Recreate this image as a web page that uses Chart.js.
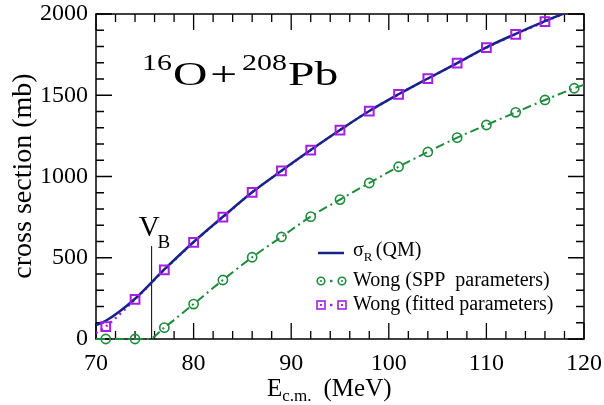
<!DOCTYPE html>
<html>
<head>
<meta charset="utf-8">
<script src="https://cdn.jsdelivr.net/npm/chart.js@4"></script>
<style>
  html, body { margin: 0; padding: 0; background: #fff; }
  #wrap { width: 604px; height: 405px; }
</style>
</head>
<body>
<div id="wrap"><canvas id="xs"></canvas></div>
<script>
// sigma_R (QM) solid curve
const energyQM = [70, 71, 74, 77, 80, 83, 86, 89, 92, 95, 98, 101, 104, 107, 110, 113, 116, 118];
const sigmaQM = [86, 112, 248, 428, 597, 752, 903, 1035, 1163, 1286, 1403, 1506, 1603, 1698, 1795, 1878, 1956, 2004];

// Wong, fitted parameters (squares every 3 MeV, dotted curve)
const energyFit = [70, 71, 74, 77, 80, 83, 86, 89, 92, 95, 98, 101, 104, 107, 110, 113, 116, 118];
const sigmaFit = [37, 76, 244, 425, 595, 750, 903, 1034, 1163, 1286, 1403, 1506, 1602, 1697, 1793, 1875, 1953, 2004];

// Wong, SPP parameters (circles every 3 MeV, dash-dot curve)
const energySPP = [70, 71, 74, 75.4, 77, 80, 83, 86, 89, 92, 95, 98, 101, 104, 107, 110, 113, 116, 119, 120];
const sigmaSPP = [0, 0, 0, 0, 70, 215, 363, 503, 628, 753, 858, 960, 1060, 1151, 1239, 1317, 1395, 1471, 1543, 1565];

const xTicks = [70, 80, 90, 100, 110, 120];
const yTicks = [0, 500, 1000, 1500, 2000];

const barrierE = 75.7;
const barrierTop = 572;

const BLUE = '#17238a';
const GREEN = '#1e8a3c';
const PURPLE = '#a41ee6';
const SERIF = "'Liberation Serif', 'Times New Roman', serif";

const pts = (xs, ys) => xs.map((e, i) => ({ x: e, y: ys[i] }));
// markers only on the sampled energies, not on the curve ends
const markerRadius = (xs, r, skip) => xs.map(e => (skip.includes(e) ? 0 : r));

// draws text with a horizontal stretch
function stretchText(ctx, text, x, y, sx) {
  ctx.save();
  ctx.translate(x, y);
  ctx.scale(sx, 1);
  ctx.fillText(text, 0, 0);
  const w = ctx.measureText(text).width * sx;
  ctx.restore();
  return w;
}

const framePlugin = {
  id: 'frame',
  beforeDatasetsDraw(chart) {
    const { ctx, chartArea: a, scales: { x, y } } = chart;
    ctx.save();
    ctx.strokeStyle = '#000';
    ctx.lineWidth = 1.5;
    ctx.strokeRect(a.left, a.top, a.right - a.left, a.bottom - a.top);

    ctx.lineWidth = 1.3;
    ctx.beginPath();
    for (let v = x.min; v <= x.max; v += 2) {
      const px = x.getPixelForValue(v);
      const len = v % 10 === 0 ? 16 : 8;
      ctx.moveTo(px, a.bottom); ctx.lineTo(px, a.bottom - len);
      ctx.moveTo(px, a.top); ctx.lineTo(px, a.top + len);
    }
    for (let v = y.min; v <= y.max; v += 100) {
      const py = y.getPixelForValue(v);
      const len = v % 500 === 0 ? 16 : 8;
      ctx.moveTo(a.left, py); ctx.lineTo(a.left + len, py);
      ctx.moveTo(a.right, py); ctx.lineTo(a.right - len, py);
    }
    ctx.stroke();

    // barrier marker
    const bx = x.getPixelForValue(barrierE);
    ctx.lineWidth = 1;
    ctx.beginPath();
    ctx.moveTo(bx, y.getPixelForValue(0));
    ctx.lineTo(bx, y.getPixelForValue(barrierTop));
    ctx.stroke();
    ctx.restore();
  },
  afterDraw(chart) {
    const { ctx, scales: { x, y } } = chart;
    ctx.save();
    ctx.fillStyle = '#000';
    ctx.textBaseline = 'alphabetic';
    ctx.textAlign = 'left';

    // V_B label
    const bx = x.getPixelForValue(barrierE);
    const by = y.getPixelForValue(barrierTop);
    ctx.font = `29px ${SERIF}`;
    ctx.fillText('V', bx - 13, by - 10);
    const vw = ctx.measureText('V').width;
    ctx.font = `19px ${SERIF}`;
    ctx.fillText('B', bx - 13 + vw - 2, by + 2);

    // reaction title
    let tx = 142;
    const ty = 85;
    ctx.font = `23px ${SERIF}`;
    tx += stretchText(ctx, '16', tx, ty - 15, 1.3) + 1;
    ctx.font = `34px ${SERIF}`;
    tx += stretchText(ctx, 'O', tx, ty, 1.4) + 3;
    tx += stretchText(ctx, '+', tx, ty, 1.4) + 5;
    ctx.font = `23px ${SERIF}`;
    tx += stretchText(ctx, '208', tx, ty - 15, 1.3) + 1;
    ctx.font = `34px ${SERIF}`;
    stretchText(ctx, 'Pb', tx, ty, 1.4);

    // axis titles
    ctx.save();
    ctx.translate(31, 176);
    ctx.rotate(-Math.PI / 2);
    ctx.textAlign = 'center';
    ctx.font = `28px ${SERIF}`;
    ctx.fillText('cross section (mb)', 0, 0);
    ctx.restore();

    let ex = 267;
    const ey = 396;
    ctx.font = `25px ${SERIF}`;
    ctx.fillText('E', ex, ey);
    ex += ctx.measureText('E').width;
    ctx.font = `17px ${SERIF}`;
    ctx.fillText('c.m.', ex, ey + 5);
    ex += ctx.measureText('c.m.').width + 12;
    ctx.font = `25px ${SERIF}`;
    ctx.fillText('(MeV)', ex, ey);

    // legend
    const lx = 318, tx0 = 353;
    const rows = [253, 281, 305];
    ctx.strokeStyle = BLUE;
    ctx.lineWidth = 2.5;
    ctx.beginPath();
    ctx.moveTo(lx, rows[0]); ctx.lineTo(lx + 26, rows[0]);
    ctx.stroke();

    ctx.strokeStyle = GREEN;
    ctx.fillStyle = GREEN;
    ctx.lineWidth = 1.6;
    [lx + 3, lx + 24].forEach(cx => {
      ctx.beginPath(); ctx.arc(cx, rows[1], 3.8, 0, Math.PI * 2); ctx.stroke();
      ctx.beginPath(); ctx.arc(cx, rows[1], 1, 0, Math.PI * 2); ctx.fill();
    });
    ctx.fillRect(lx + 12, rows[1] - 1.2, 2.4, 2.4);

    ctx.strokeStyle = PURPLE;
    ctx.fillStyle = PURPLE;
    [lx + 3, lx + 24].forEach(cx => {
      ctx.strokeRect(cx - 4, rows[2] - 4, 8, 8);
      ctx.fillRect(cx - 1, rows[2] - 1, 2, 2);
    });
    ctx.fillRect(lx + 12, rows[2] - 1.2, 2.4, 2.4);

    ctx.fillStyle = '#000';
    ctx.textBaseline = 'middle';
    ctx.font = `20px ${SERIF}`;
    ctx.fillText('\u03c3', tx0, rows[0] - 2);
    const sw = ctx.measureText('\u03c3').width;
    ctx.font = `13px ${SERIF}`;
    ctx.fillText('R', tx0 + sw, rows[0] + 5);
    ctx.font = `20px ${SERIF}`;
    ctx.fillText('(QM)', tx0 + sw + 12, rows[0] - 2);
    ctx.fillText('Wong (SPP  parameters)', tx0, rows[1]);
    ctx.fillText('Wong (fitted parameters)', tx0, rows[2]);
    ctx.restore();
  }
};

function draw() {
  new Chart(document.getElementById('xs'), {
    type: 'line',
    data: {
      datasets: [
        {
          label: 'Wong (SPP parameters)',
          order: 0,
          data: pts(energySPP, sigmaSPP),
          borderColor: GREEN,
          borderWidth: 2,
          borderDash: [9, 4, 2, 4],
          pointStyle: 'circle',
          pointRadius: markerRadius(energySPP, 4.6, [70, 75.4, 120]),
          pointBorderWidth: 1.6,
          pointBorderColor: GREEN,
          pointBackgroundColor: 'rgba(0,0,0,0)',
          cubicInterpolationMode: 'monotone',
          clip: false
        },
        {
          label: 'Wong (fitted parameters) markers',
          order: 1,
          data: pts(energyFit, sigmaFit),
          showLine: false,
          pointStyle: 'rect',
          pointRadius: markerRadius(energyFit, 6.2, [70, 118]),
          pointBorderWidth: 2,
          pointBorderColor: PURPLE,
          pointBackgroundColor: 'rgba(0,0,0,0)',
          clip: 0
        },
        {
          label: 'sigma_R (QM)',
          order: 2,
          data: pts(energyQM, sigmaQM),
          borderColor: BLUE,
          borderWidth: 2.5,
          pointRadius: 0,
          cubicInterpolationMode: 'monotone',
          clip: 0
        },
        {
          label: 'Wong (fitted parameters)',
          order: 3,
          data: pts(energyFit, sigmaFit),
          borderColor: PURPLE,
          borderWidth: 2.4,
          borderDash: [2, 4],
          pointRadius: 0,
          cubicInterpolationMode: 'monotone',
          clip: 0
        }
      ]
    },
    options: {
      responsive: true,
      maintainAspectRatio: false,
      animation: false,
      layout: { padding: { left: 0, top: 14, right: 20, bottom: 0 } },
      plugins: { legend: { display: false }, tooltip: { enabled: false } },
      scales: {
        x: {
          type: 'linear',
          min: 70, max: 120,
          grid: { display: false, drawTicks: false },
          border: { display: false },
          afterBuildTicks: s => { s.ticks = xTicks.map(v => ({ value: v })); },
          afterFit: s => { s.height = 66; s.paddingLeft = 0; s.paddingRight = 0; },
          ticks: { padding: 10, color: '#000', font: { family: SERIF, size: 24 }, maxRotation: 0, callback: v => String(v) }
        },
        y: {
          min: 0, max: 2000,
          grid: { display: false, drawTicks: false },
          border: { display: false },
          afterBuildTicks: s => { s.ticks = yTicks.map(v => ({ value: v })); },
          afterFit: s => { s.width = 96; s.paddingTop = 0; s.paddingBottom = 0; },
          ticks: { padding: 8, color: '#000', font: { family: SERIF, size: 24 }, callback: v => String(v) }
        }
      }
    },
    plugins: [framePlugin]
  });
}

if (document.fonts && document.fonts.load) {
  document.fonts.load("24px 'Liberation Serif'").then(draw, draw);
} else {
  draw();
}
</script>
</body>
</html>
